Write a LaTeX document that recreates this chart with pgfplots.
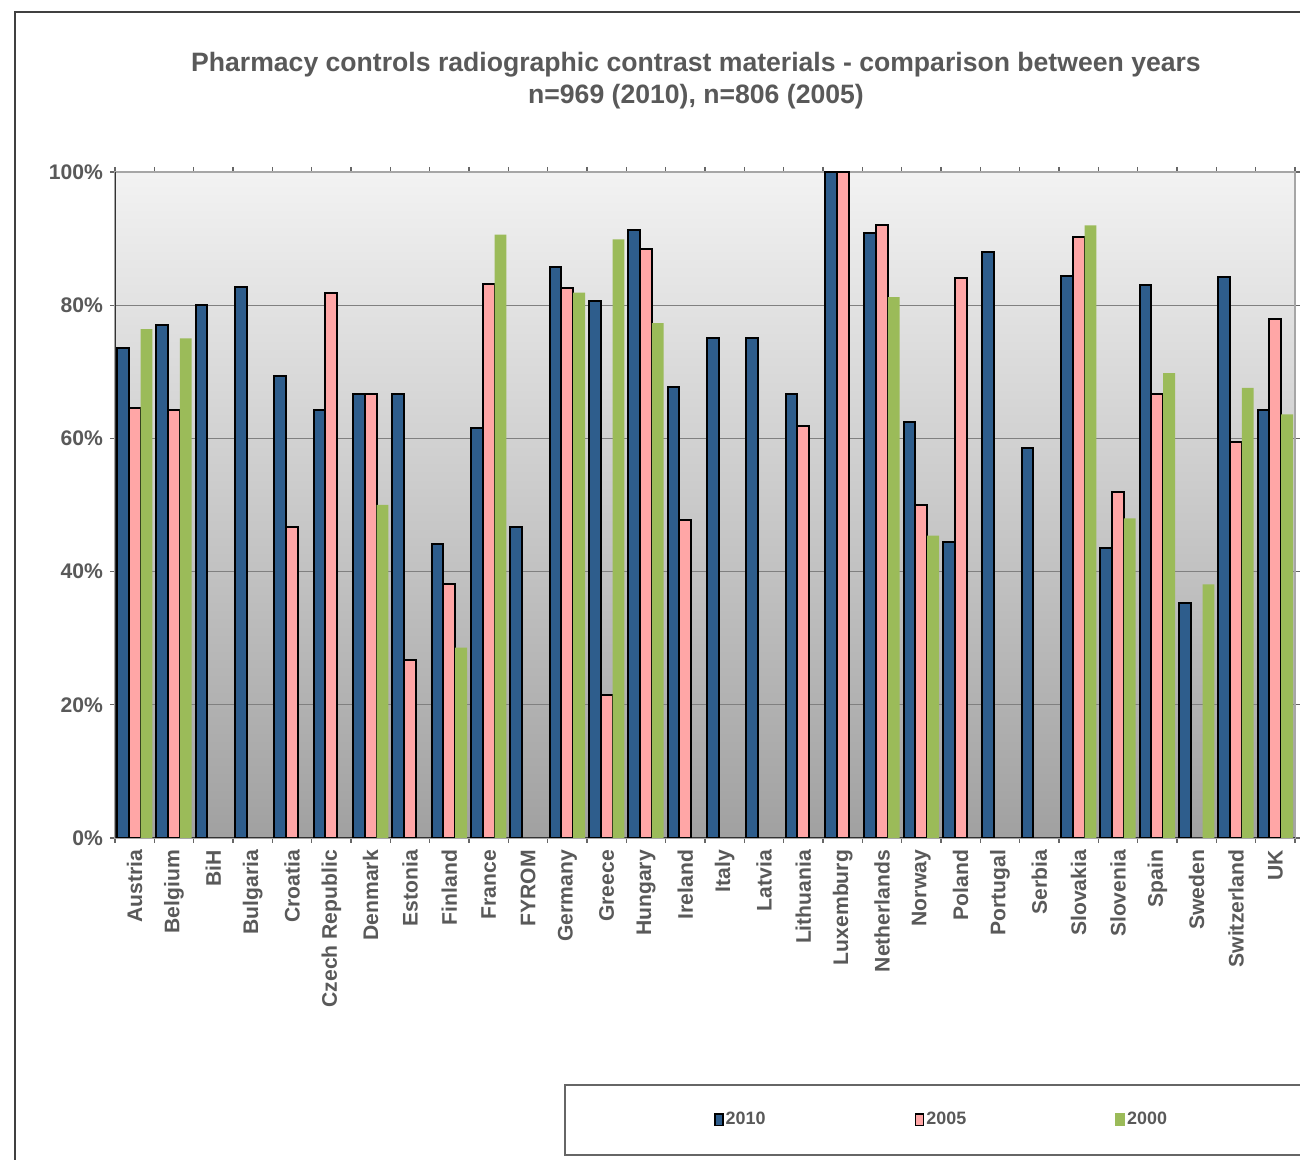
\documentclass[border=0pt]{standalone}
\usepackage{fontspec}
\setmainfont{Liberation Sans}
\usepackage{pgfplots}
\pgfplotsset{compat=1.18}
\definecolor{c2010}{HTML}{2E5D8C}
\definecolor{c2005}{HTML}{FFA6A6}
\definecolor{c2000}{HTML}{9BBB59}
\definecolor{txt}{HTML}{595959}
\begin{document}
\begin{tikzpicture}
\path[use as bounding box] (0,0) rectangle (650bp,580bp);
\draw[color=black!75, line width=0.6bp] (7.5bp,0) -- (7.5bp,574bp) -- (652bp,574bp);
\node[align=center, text=txt, font=\fontsize{13.35}{16}\selectfont\bfseries] at (348bp,539.5bp)
  {Pharmacy controls radiographic contrast materials - comparison between years\\n=969 (2010), n=806 (2005)};
\draw[black!60, line width=0.6bp] (282.5bp,2.5bp) rectangle (660bp,37.5bp);
\begin{axis}[
  at={(57.5bp,161bp)}, anchor=south west,
  width=590bp, height=333bp, scale only axis,
  xmin=-0.5, xmax=29.5, ymin=0, ymax=100,
  axis background/.style={top color=black!5, bottom color=black!37},
  axis line style={draw=black!35, line width=0.6bp},
  ymajorgrids, grid style={draw=black!50, line width=0.6bp},
  ytick={0,20,40,60,80,100},
  yticklabels={0\%,20\%,40\%,60\%,80\%,100\%},
  xtick={0,...,29},
  xticklabels={Austria,Belgium,BiH,Bulgaria,Croatia,Czech Republic,Denmark,Estonia,Finland,France,FYROM,Germany,Greece,Hungary,Ireland,Italy,Latvia,Lithuania,Luxemburg,Netherlands,Norway,Poland,Portugal,Serbia,Slovakia,Slovenia,Spain,Sweden,Switzerland,UK},
  minor xtick={-0.5,0.5,...,29.5},
  tick align=outside,
  x tick style={draw=none},
  minor x tick style={draw=black!60, line width=0.6bp},
  y tick style={draw=black!60, line width=0.6bp},
  major tick length=2.5bp, minor tick length=2.5bp,
  ticklabel style={font=\fontsize{10.6}{12}\selectfont\bfseries, text=txt},
  xticklabel style={rotate=90, anchor=east},
  ybar, bar width=0.3,
  legend columns=3,
  legend style={at={(0.7004,-0.4234)}, anchor=center, draw=none, fill=none,
    font=\fontsize{9}{10}\selectfont\bfseries, text=txt,
    /tikz/every even column/.append style={column sep=73.5bp},
    nodes={inner sep=1bp}},
  legend image code/.code={\draw[#1, line width=0.9bp] (0bp,-2.8bp) rectangle (4bp,2.8bp);},
]
\draw[black!80, line width=0.7bp] (rel axis cs:0,0) -- (rel axis cs:0,1);
\draw[black!80, line width=0.7bp] (rel axis cs:0,0) -- (rel axis cs:1,0);
\addplot[fill=c2010, draw=black, line width=1bp, bar shift=-0.3] coordinates {
 (0,73.5) (1,77.1) (2,80.0) (3,82.7) (4,69.4) (5,64.3) (6,66.7) (7,66.7) (8,44.2) (9,61.5)
 (10,46.7) (11,85.8) (12,80.6) (13,91.3) (14,67.7) (15,75.0) (16,75.0) (17,66.7) (18,100) (19,90.9)
 (20,62.4) (21,44.5) (22,88.0) (23,58.6) (24,84.4) (25,43.5) (26,83.0) (27,35.3) (28,84.2) (29,64.3)};
\addplot[fill=c2005, draw=black, line width=1bp, bar shift=0] coordinates {
 (0,64.5) (1,64.3) (4,46.7) (5,81.8) (6,66.7) (7,26.7) (8,38.2) (9,83.2)
 (11,82.6) (12,21.5) (13,88.5) (14,47.8) (17,61.8) (18,100) (19,92.0)
 (20,50.0) (21,84.1) (24,90.2) (25,52.0) (26,66.7) (28,59.4) (29,77.9)};
\addplot[fill=c2000, draw=none, bar shift=0.3,
  legend image code/.code={\fill[c2000] (-0.45bp,-3.25bp) rectangle (4.45bp,3.25bp);}] coordinates {
 (0,76.4) (1,75.0) (6,50.0) (8,28.6) (9,90.6) (11,81.9) (12,89.9) (13,77.3) (19,81.2)
 (20,45.4) (24,92.0) (25,48.0) (26,69.8) (27,38.1) (28,67.6) (29,63.6)};
\legend{2010,2005,2000}
\end{axis}
\end{tikzpicture}
\end{document}
